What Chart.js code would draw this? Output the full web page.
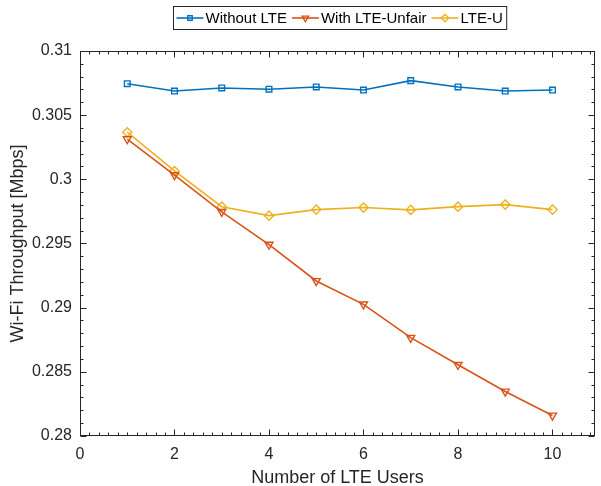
<!DOCTYPE html>
<html>
<head>
<meta charset="utf-8">
<script src="https://cdn.jsdelivr.net/npm/chart.js@4/dist/chart.umd.min.js"></script>
<style>
  html, body { margin: 0; padding: 0; background: #fff; }
  #wrap { width: 601px; height: 486px; }
</style>
</head>
<body>
<div id="wrap"><canvas id="myChart" width="601" height="486"></canvas></div>
<script>
const xValues = [1, 2, 3, 4, 5, 6, 7, 8, 9, 10];
const withoutLte = [0.30745, 0.30688, 0.30712, 0.30702, 0.30720, 0.30696, 0.30769, 0.30720, 0.30688, 0.30696];
const withLteUnfair = [0.30314, 0.30033, 0.29747, 0.29492, 0.29208, 0.29026, 0.28766, 0.28555, 0.28347, 0.28160];
const lteU = [0.30367, 0.30065, 0.29787, 0.29717, 0.29764, 0.29780, 0.29762, 0.29787, 0.29803, 0.29764];

const seriesNames = ["Without LTE", "With LTE-Unfair", "LTE-U"];
const xTickValues = [0, 2, 4, 6, 8, 10];
const yTickValues = [0.28, 0.285, 0.29, 0.295, 0.3, 0.305, 0.31];

const xMax = 10.9;
const blue = "#0072BD";
const red = "#D95319";
const yellow = "#EDB120";
const axisColor = "#262626";
const fontFamily = "'Liberation Sans', Arial, sans-serif";

function toPoints(values) {
  return values.map((v, i) => ({ x: xValues[i], y: v }));
}

function makeDataset(label, values, color, style, radius, rotation) {
  return {
    label: label,
    data: toPoints(values),
    borderColor: color,
    backgroundColor: color,
    borderWidth: 1.6,
    pointStyle: style,
    pointRadius: radius,
    pointRotation: rotation,
    pointBorderColor: color,
    pointBackgroundColor: "rgba(0,0,0,0)",
    pointBorderWidth: 1.4,
    tension: 0,
  };
}

// frame with inward major/minor ticks, MATLAB style
const axesBox = {
  id: "axesBox",
  afterDatasetsDraw(chart) {
    const { ctx, chartArea: a, scales } = chart;
    const xs = scales.x;
    const ys = scales.y;
    const L = Math.round(a.left) + 0.5;
    const R = Math.round(a.right) - 0.5;
    const T = Math.round(a.top) + 0.5;
    const B = Math.round(a.bottom) - 0.5;
    ctx.save();
    ctx.strokeStyle = axisColor;
    ctx.lineWidth = 1;
    ctx.strokeRect(L, T, R - L, B - T);

    ctx.beginPath();
    for (let i = 0; i * 0.2 <= xMax; i++) {
      const px = Math.round(xs.getPixelForValue(i * 0.2)) + 0.5;
      const len = (i % 10 === 0) ? 6 : 3;
      ctx.moveTo(px, B); ctx.lineTo(px, B - len);
      ctx.moveTo(px, T); ctx.lineTo(px, T + len);
    }
    for (let i = 0; i <= 30; i++) {
      const py = Math.round(ys.getPixelForValue(0.28 + i * 0.001)) + 0.5;
      const len = (i % 5 === 0) ? 6 : 3;
      ctx.moveTo(L, py); ctx.lineTo(L + len, py);
      ctx.moveTo(R, py); ctx.lineTo(R - len, py);
    }
    ctx.stroke();
    ctx.restore();
  },
};

// boxed legend with line + marker samples
const boxLegend = {
  id: "boxLegend",
  afterDraw(chart) {
    const { ctx, chartArea: a } = chart;
    const lineLen = 27;
    const gapText = 2;
    const gapItem = 5;
    const padL = 3;
    const padR = 4;
    ctx.save();
    ctx.font = "15px " + fontFamily;
    const widths = seriesNames.map((n) => ctx.measureText(n).width);
    let total = padL + padR;
    widths.forEach((w, i) => {
      total += lineLen + gapText + w + (i < widths.length - 1 ? gapItem : 0);
    });
    const boxLeft = Math.round((a.left + a.right) / 2 + 2 - total / 2) + 0.5;
    const boxTop = 6.5;
    const boxH = 23;
    const cy = boxTop + boxH / 2;

    ctx.fillStyle = "#fff";
    ctx.fillRect(boxLeft, boxTop, total, boxH);
    ctx.strokeStyle = axisColor;
    ctx.lineWidth = 1;
    ctx.strokeRect(boxLeft, boxTop, total, boxH);

    let x = boxLeft + padL;
    chart.data.datasets.forEach((ds, i) => {
      ctx.strokeStyle = ds.borderColor;
      ctx.lineWidth = 1.6;
      ctx.beginPath();
      ctx.moveTo(x, cy);
      ctx.lineTo(x + lineLen, cy);
      ctx.stroke();
      ctx.fillStyle = "rgba(0,0,0,0)";
      ctx.lineWidth = 1.3;
      Chart.helpers.drawPoint(ctx, {
        pointStyle: ds.pointStyle,
        radius: ds.pointRadius - 0.8,
        rotation: ds.pointRotation,
        borderWidth: 1.3,
      }, x + lineLen / 2, cy);
      x += lineLen + gapText;
      ctx.fillStyle = "#000";
      ctx.textBaseline = "middle";
      ctx.textAlign = "left";
      ctx.fillText(seriesNames[i], x, cy + 1);
      x += widths[i] + gapItem;
    });
    ctx.restore();
  },
};

const ctx = document.getElementById("myChart").getContext("2d");
const chart = new Chart(ctx, {
  type: "line",
  data: {
    datasets: [
      makeDataset(seriesNames[0], withoutLte, blue, "rect", 4, 0),
      makeDataset(seriesNames[1], withLteUnfair, red, "triangle", 4.6, 180),
      makeDataset(seriesNames[2], lteU, yellow, "rectRot", 4.6, 0),
    ],
  },
  options: {
    responsive: false,
    animation: false,
    devicePixelRatio: 1,
    layout: { padding: { left: 0, right: 3, top: 51, bottom: 0 } },
    plugins: {
      legend: { display: false },
      tooltip: { enabled: false },
    },
    scales: {
      x: {
        type: "linear",
        min: 0,
        max: xMax,
        grid: { display: false, drawTicks: false },
        border: { display: false },
        afterFit: (scale) => { scale.height = 50; },
        afterBuildTicks: (scale) => {
          scale.ticks = xTickValues.map((v) => ({ value: v }));
        },
        ticks: {
          color: axisColor,
          padding: 9,
          maxRotation: 0,
          autoSkip: false,
          font: { family: fontFamily, size: 16 },
          callback: (v) => String(v),
        },
        title: {
          display: true,
          text: "Number of LTE Users",
          color: axisColor,
          padding: { top: 0, bottom: -3 },
          font: { family: fontFamily, size: 18 },
        },
      },
      y: {
        type: "linear",
        min: 0.28,
        max: 0.31,
        grid: { display: false, drawTicks: false },
        border: { display: false },
        afterFit: (scale) => { scale.width = 80; },
        afterBuildTicks: (scale) => {
          scale.ticks = yTickValues.map((v) => ({ value: v }));
        },
        ticks: {
          color: axisColor,
          padding: 8,
          autoSkip: false,
          font: { family: fontFamily, size: 16 },
          callback: (v) => String(Number(v.toFixed(3))),
        },
        title: {
          display: true,
          text: "Wi-Fi Throughput [Mbps]",
          color: axisColor,
          padding: { top: 7, bottom: 0 },
          font: { family: fontFamily, size: 18 },
        },
      },
    },
  },
  plugins: [axesBox, boxLegend],
});
</script>
</body>
</html>
